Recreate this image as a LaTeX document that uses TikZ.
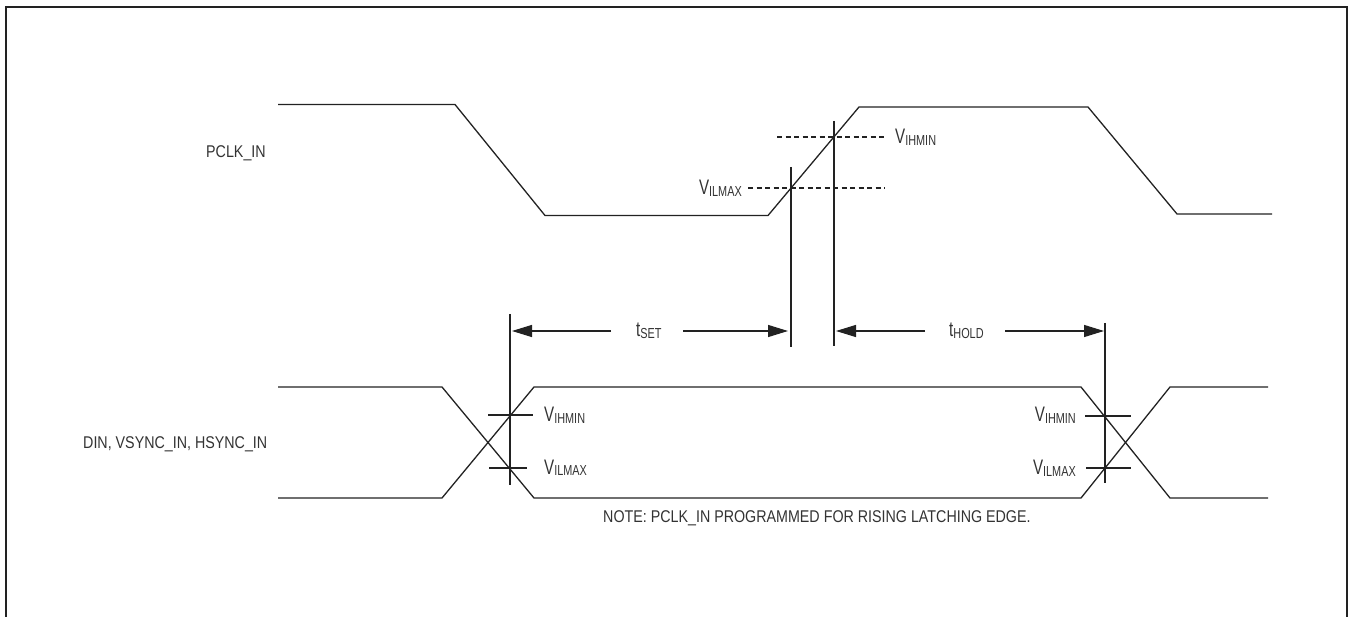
\documentclass[tikz,border=0pt]{standalone}
\usepackage{fontspec}
\setmainfont{Liberation Sans}[FakeStretch=0.84]
\newfontfamily\bigfont{Liberation Sans}[FakeStretch=0.72]
\newfontfamily\subfont{Liberation Sans}[FakeStretch=0.75]
\usetikzlibrary{arrows.meta}
\newcommand{\sublbl}[2]{{\bigfont\fontsize{21}{21}\selectfont #1}\raisebox{-1.8pt}{\subfont\fontsize{14.5}{14.5}\selectfont #2}}
\definecolor{ink}{HTML}{222222}
\definecolor{txtc}{HTML}{333333}
\begin{document}
\begin{tikzpicture}[x=1pt,y=-1pt,
  sig/.style={line width=1.3pt, draw=ink, line join=miter},
  thin/.style={line width=1.2pt, draw=ink},
  dashln/.style={line width=1.2pt, draw=ink, dash pattern=on 5pt off 3.5pt},
  arr/.style={line width=1.3pt, draw=ink, -{Triangle[length=20pt,width=12pt]}},
  txt/.style={inner sep=0pt, text=txtc, font=\fontsize{17}{17}\selectfont},
  lbl/.style={inner sep=0pt, text=txtc}]
\useasboundingbox (0,0) rectangle (1351,617);
% frame
\draw[line width=2.2pt, draw=ink] (6,620) -- (6,7) -- (1347,7) -- (1347,620);

% signal names
\node[txt, anchor=base west] (pclk) at (206,157.5) {PCLK\_IN};
\node[txt, anchor=base west] (din) at (83,448.5) {DIN, VSYNC\_IN, HSYNC\_IN};
\node[txt, anchor=base west] (note) at (603,522) {NOTE: PCLK\_IN PROGRAMMED FOR RISING LATCHING EDGE.};

% PCLK_IN waveform
\draw[sig] (278,104.5) -- (455,104.5) -- (545,215.5) -- (768,215.5) -- (859,107) -- (1088,107) -- (1177,214) -- (1272,214);

% threshold dashed lines
\coordinate (ihA) at (777,137);
\coordinate (ihB) at (885,137);
\coordinate (ilA) at (748,188);
\coordinate (ilB) at (885,188);
\draw[dashln] (ihA) -- (ihB);
\draw[dashln] (ilA) -- (ilB);
\node[lbl, anchor=base west] (vih1) at (895,143.3) {\sublbl{V}{IHMIN}};
\node[lbl, anchor=base east] (vil1) at (742,194.5) {\sublbl{V}{ILMAX}};

% vertical reference lines at clock edge
\coordinate (v1t) at (791,167);
\coordinate (v1b) at (791,347);
\coordinate (v2t) at (834,121);
\coordinate (v2b) at (834,346);
\draw[thin] (v1t) -- (v1b);
\draw[thin] (v2t) -- (v2b);

% data window vertical lines
\coordinate (v0t) at (510,314);
\coordinate (v0b) at (510,485);
\coordinate (v3t) at (1105,323);
\coordinate (v3b) at (1105,483);
\draw[thin] (v0t) -- (v0b);
\draw[thin] (v3t) -- (v3b);

% timing arrows
\coordinate (setL) at (512,331);
\coordinate (setA) at (611,331);
\coordinate (setB) at (683,331);
\coordinate (setR) at (788,331);
\coordinate (holdL) at (836,331);
\coordinate (holdA) at (925,331);
\coordinate (holdB) at (1005,331);
\coordinate (holdR) at (1104,331);
\draw[arr] (setA) -- (setL);
\draw[arr] (setB) -- (setR);
\draw[arr] (holdA) -- (holdL);
\draw[arr] (holdB) -- (holdR);
\node[lbl, anchor=base west] (tset) at (636,336.7) {\sublbl{t}{SET}};
\node[lbl, anchor=base west] (thold) at (949,336.7) {\sublbl{t}{HOLD}};

% data waveform
\draw[sig] (278,387) -- (442,387) -- (534,498) -- (1081,498) -- (1170,387) -- (1268,387);
\draw[sig] (278,498) -- (442,498) -- (534,387) -- (1081,387) -- (1170,498) -- (1268,498);

% threshold ticks
\draw[thin] (488,415) -- (533,415);
\draw[thin] (489,468) -- (527,468);
\draw[thin] (1085,416) -- (1131,416);
\draw[thin] (1086,468) -- (1131,468);
\node[lbl, anchor=base west] (vih2) at (544,421.7) {\sublbl{V}{IHMIN}};
\node[lbl, anchor=base west] (vil2) at (544,474) {\sublbl{V}{ILMAX}};
\node[lbl, anchor=base east] (vih3) at (1076,421.7) {\sublbl{V}{IHMIN}};
\node[lbl, anchor=base east] (vil3) at (1076,474.3) {\sublbl{V}{ILMAX}};
\end{tikzpicture}
\end{document}
